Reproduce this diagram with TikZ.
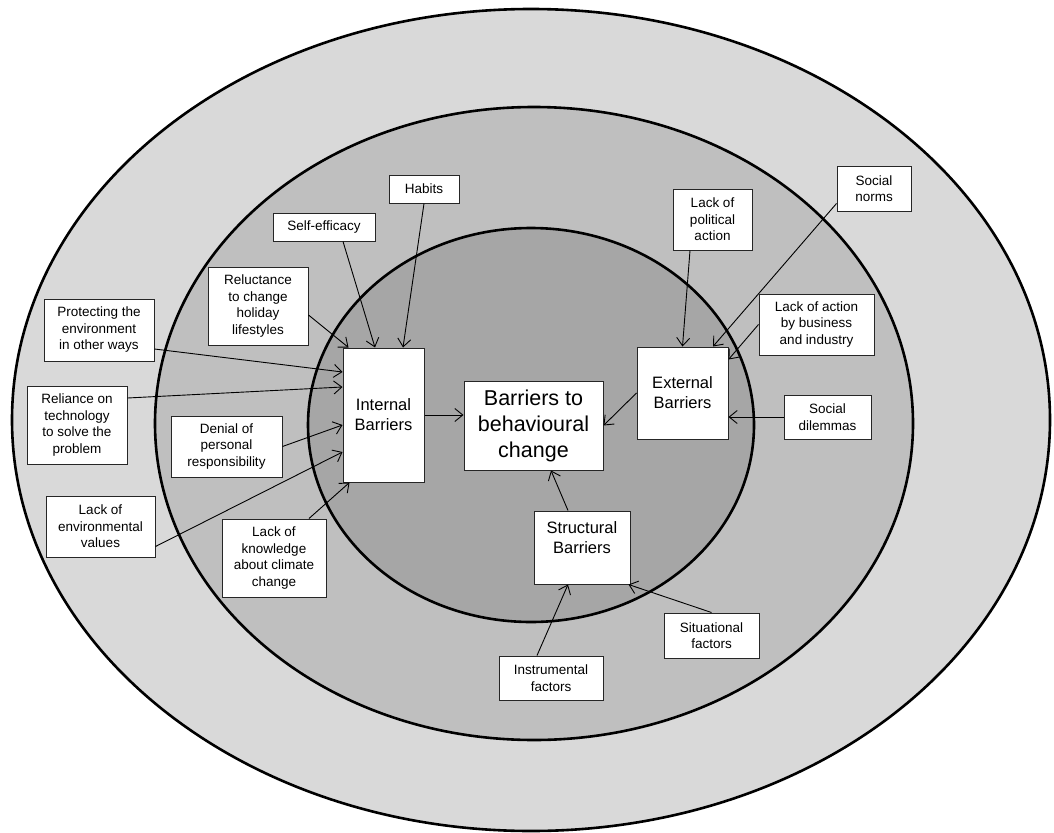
\documentclass[tikz,border=0pt]{standalone}
\usepackage{fontspec}
\setmainfont{Liberation Sans}
\usetikzlibrary{arrows.meta,calc}

\definecolor{outerring}{RGB}{217,217,217}
\definecolor{middlering}{RGB}{191,191,191}
\definecolor{innerring}{RGB}{166,166,166}

\begin{document}
\begin{tikzpicture}[x=1pt,y=-1pt,->,>={Straight Barb[length=8pt,width=13pt]},line width=0.9pt]
\tikzstyle{ring}=[-,draw=black,line width=2.6pt]
\tikzstyle{factor}=[draw=black!85,fill=white,line width=1pt,align=center,inner sep=0pt,font=\fontsize{13.5}{16.5}\selectfont]
\tikzstyle{barrier}=[factor,font=\fontsize{16.5}{20}\selectfont]

\fill[white] (0,0) rectangle (1054,832);
\useasboundingbox (0,0) rectangle (1054,832);

% the three rings
\draw[ring,fill=outerring] (531,420) ellipse [x radius=519pt,y radius=411pt];
\draw[ring,fill=middlering] (534,423.5) ellipse [x radius=379pt,y radius=316.5pt];
\draw[ring,fill=innerring] (531,425) ellipse [x radius=223pt,y radius=197pt];

% barriers
\node[factor,minimum width=139pt,minimum height=89pt,font=\fontsize{21.5}{26}\selectfont] (barriers) at (533.5,425.5) {Barriers to\\behavioural\\change};
\node[barrier,minimum width=81pt,minimum height=134pt] (internal) at (383.5,415) {Internal\\Barriers};
\node[barrier,minimum width=91pt,minimum height=92pt] (external) at (682.5,393) {External\\Barriers};
\node[barrier,minimum width=96pt,minimum height=73pt] (structural) at (582,547.5) {Structural\\Barriers\\\mbox{}};

% internal factors
\node[factor,minimum width=102pt,minimum height=28pt] (selfeff) at (324,227) {Self-efficacy};
\node[factor,minimum width=70pt,minimum height=28pt] (habits) at (424,189) {Habits};
\node[factor,minimum width=100pt,minimum height=78pt] (reluct) at (258,306) {Reluctance\\to change\\holiday\\lifestyles};
\node[factor,minimum width=110pt,minimum height=62pt] (protect) at (99,330) {Protecting the\\environment\\in other ways};
\node[factor,minimum width=100pt,minimum height=78pt] (reliance) at (77,425) {Reliance on\\technology\\to solve the\\problem};
\node[factor,minimum width=111pt,minimum height=61pt] (denial) at (226.5,446.5) {Denial of\\personal\\responsibility};
\node[factor,minimum width=109pt,minimum height=61pt] (envval) at (100.5,526.5) {Lack of\\environmental\\values};
\node[factor,minimum width=104pt,minimum height=78pt] (knowl) at (274,558) {Lack of\\knowledge\\about climate\\change};

% external factors
\node[factor,minimum width=79pt,minimum height=61pt] (political) at (712.5,219.5) {Lack of\\political\\action};
\node[factor,minimum width=74pt,minimum height=45pt] (norms) at (874,188.5) {Social\\norms};
\node[factor,minimum width=115pt,minimum height=61pt] (business) at (816.5,324.5) {Lack of action\\by business\\and industry};
\node[factor,minimum width=87pt,minimum height=44pt] (dilemmas) at (827.5,417) {Social\\dilemmas};

% structural factors
\node[factor,minimum width=95pt,minimum height=45pt] (situational) at (711.5,635.5) {Situational\\factors};
\node[factor,minimum width=104pt,minimum height=44pt] (instrumental) at (551,678) {Instrumental\\factors};

\path
	($(selfeff.south)+(19,0)$) edge ($(internal.north)+(-8.5,0)$)
	(habits.south) edge ($(internal.north)+(19.5,0)$)
	($(reluct.east)+(0,9)$) edge ($(internal.north west)+(6,0)$)
	($(protect.east)+(0,19)$) edge ($(internal.west)+(0,-43)$)
	($(reliance.east)+(0,-27)$) edge ($(internal.west)+(0,-28)$)
	(denial.east) edge ($(internal.west)+(0,10)$)
	($(envval.east)+(0,20)$) edge ($(internal.west)+(0,37)$)
	($(knowl.north)+(35,0)$) edge ($(internal.south west)+(7,0)$)
	(internal.east) edge (internal.east -| barriers.west)
	(external.west) edge (barriers.east)
	($(political.south)+(-22.5,0)$) edge (external.north)
	($(norms.south west)+(0,-8)$) edge ($(external.north)+(30.5,0)$)
	(business.west) edge ($(external.north east)+(0,13)$)
	(dilemmas.west) edge (dilemmas.west -| external.east)
	($(structural.north)+(-14,0)$) edge ($(barriers.south)+(17.5,0)$)
	($(instrumental.north)+(-14,0)$) edge ($(structural.south)+(-14,0)$)
	(situational.north) edge ($(structural.south east)+(-2,0)$);
\end{tikzpicture}
\end{document}
